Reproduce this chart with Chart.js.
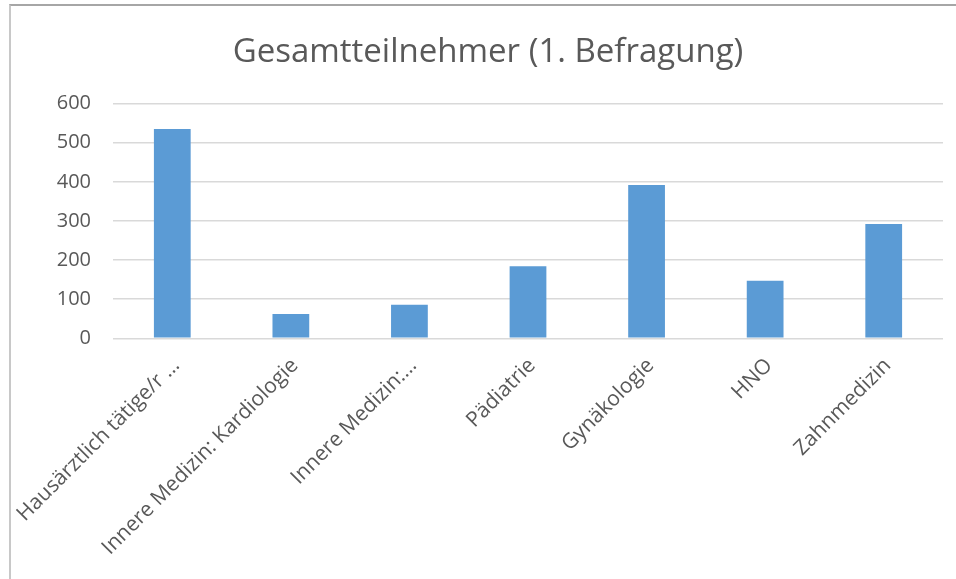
<!DOCTYPE html>
<html>
<head>
<meta charset="utf-8">
<script src="https://cdn.jsdelivr.net/npm/chart.js@4/dist/chart.umd.min.js"></script>
<style>
  html, body { margin: 0; padding: 0; background: #ffffff; }
  body { width: 956px; height: 579px; overflow: hidden; position: relative; }
  #frame { position: absolute; left: 9px; top: 4px; width: 947px; height: 575px;
           border-top: 2px solid #a6a6a6; border-left: 2px solid #c8c8c8; background: #fff; }
  #c { display: block; }
</style>
</head>
<body>
<div id="frame"><canvas id="c" width="945" height="573"></canvas></div>
<script>
const chartTitle = "Gesamtteilnehmer (1. Befragung)";
const categories = [
  "Hausärztlich tätige/r …",
  "Innere Medizin: Kardiologie",
  "Innere Medizin:…",
  "Pädiatrie",
  "Gynäkologie",
  "HNO",
  "Zahnmedizin"
];
const participants = [535, 62, 86, 184, 392, 147, 292];
const yTickMin = 0;
const yTickMax = 600;
const yTickStep = 100;

const FONT = "'Open Sans', 'DejaVu Sans', sans-serif";
const TEXT = "#595959";

new Chart(document.getElementById('c'), {
  type: 'bar',
  data: {
    labels: categories,
    datasets: [{
      label: chartTitle,
      data: participants,
      backgroundColor: '#5b9bd5',
      borderWidth: 0,
      categoryPercentage: 1,
      barPercentage: 0.31
    }]
  },
  options: {
    responsive: false,
    animation: false,
    layout: { padding: { left: 9, right: 0, top: 0, bottom: 0 } },
    plugins: {
      legend: { display: false },
      tooltip: { enabled: false },
      title: {
        display: true,
        text: chartTitle,
        color: TEXT,
        font: { family: FONT, size: 33, weight: 'normal', lineHeight: 1.2 },
        padding: { top: 27, bottom: 31 }
      }
    },
    scales: {
      x: {
        grid: { display: false, drawTicks: false },
        border: { display: false },
        ticks: {
          color: TEXT,
          font: { family: FONT, size: 21 },
          maxRotation: 45,
          minRotation: 45,
          autoSkip: false,
          padding: 15,
          labelOffset: 4
        },
        afterFit: (s) => { s.height = 240.7; s.paddingLeft = 0; s.paddingRight = 13; }
      },
      y: {
        min: yTickMin,
        max: yTickMax,
        grid: { color: '#d9d9d9', lineWidth: 1.5, drawTicks: false },
        border: { display: false },
        ticks: {
          stepSize: yTickStep,
          color: TEXT,
          font: { family: FONT, size: 20 },
          padding: 22
        },
        afterFit: (s) => { s.width = 93; s.paddingTop = 0; s.paddingBottom = 0; }
      }
    }
  }
});
</script>
</body>
</html>
